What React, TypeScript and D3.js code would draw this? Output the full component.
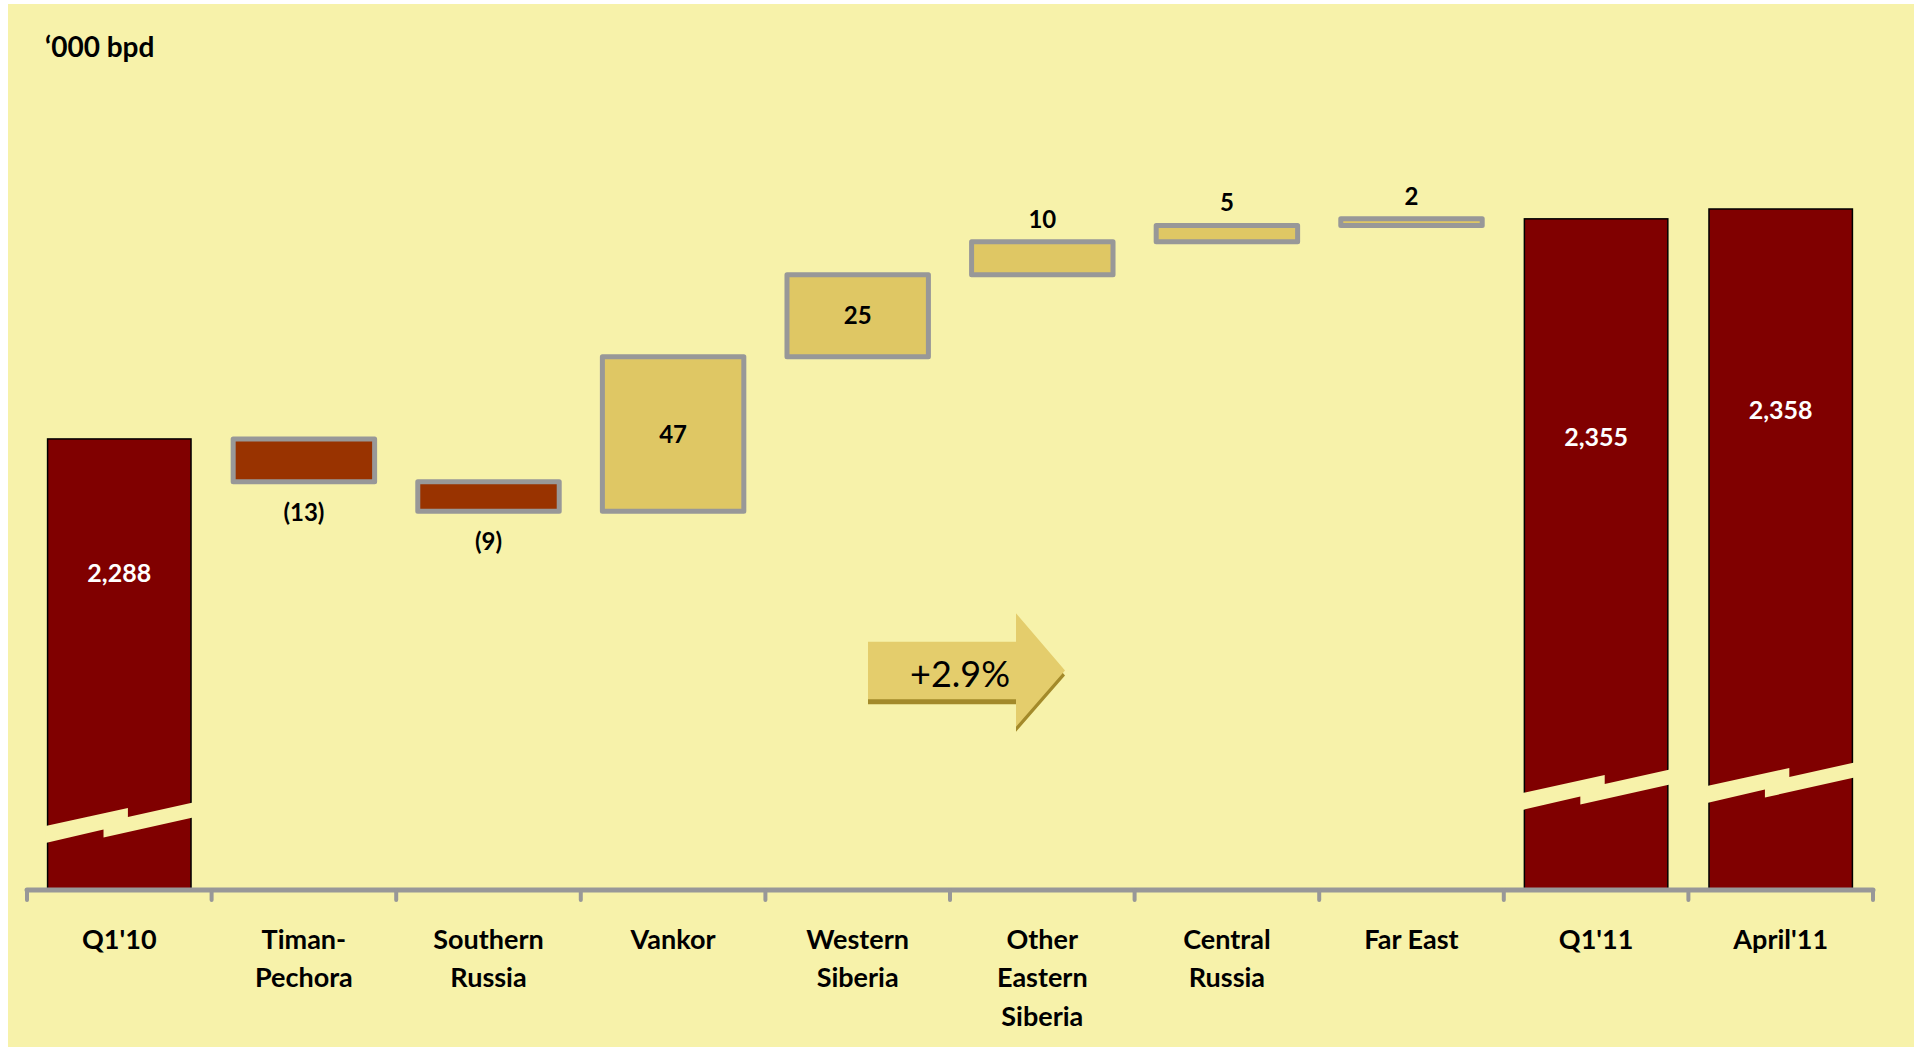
import React from "react";
import * as d3 from "d3";

// Output by region, '000 barrels per day
const categoryLines: string[][] = [
  ["Q1'10"],
  ["Timan-", "Pechora"],
  ["Southern", "Russia"],
  ["Vankor"],
  ["Western", "Siberia"],
  ["Other", "Eastern", "Siberia"],
  ["Central", "Russia"],
  ["Far East"],
  ["Q1'11"],
  ["April'11"],
];
const categories = categoryLines.map((l) => l.join(" "));

const startTotal = 2288; // Q1'10
const regionChanges = [-13, -9, 47, 25, 10, 5, 2];
const endTotals = [2355, 2358]; // Q1'11, April'11
const growthLabel = "+2.9%";
const unitLabel = "\u2018000 bpd";

// Layout
const W = 1914;
const H = 1049;
const axisY = 889;
const BG = "#F7F2AA";
const TOTAL_FILL = "#800000";
const UP_FILL = "#DFC764";
const DOWN_FILL = "#993300";
const EDGE = "#989898";
const FONT = "Lato, 'Open Sans', sans-serif";

// distance of each break zigzag above the axis, and label drop from bar top
const breakLift = [63, 96, 103];
const totalLabelDrop = [134, 218, 201];

type Bar = {
  cat: string;
  lo: number;
  hi: number;
  kind: "total" | "up" | "down";
  value: number;
};

function buildBars(): Bar[] {
  const bars: Bar[] = [];
  bars.push({ cat: categories[0], lo: 0, hi: startTotal, kind: "total", value: startTotal });
  let run = startTotal;
  regionChanges.forEach((c, i) => {
    const next = run + c;
    bars.push({
      cat: categories[i + 1],
      lo: Math.min(run, next),
      hi: Math.max(run, next),
      kind: c >= 0 ? "up" : "down",
      value: c,
    });
    run = next;
  });
  endTotals.forEach((t, i) => {
    bars.push({ cat: categories[8 + i], lo: 0, hi: t, kind: "total", value: t });
  });
  return bars;
}

export default function App() {
  const bars = buildBars();

  const x = d3
    .scaleBand<string>()
    .domain(categories)
    .range([27, 1873])
    .paddingInner(0.223)
    .paddingOuter(0.1115);

  // broken value axis: the visible part starts well above zero
  const y = d3.scaleLinear().domain([2151, 2358]).range([axisY, 209]);

  const bw = x.bandwidth();
  const fmtTotal = d3.format(",");
  const fmtChange = (v: number) => (v < 0 ? `(${Math.abs(v)})` : `${v}`);

  let totalIdx = 0;

  const arrow = {
    x0: 868,
    x1: 1016,
    tip: 1065,
    top: 641.7,
    bot: 699.3,
    headTop: 613.3,
    headBot: 726.7,
  };
  const arrowPts = (dy: number) =>
    [
      [arrow.x0, arrow.top + dy],
      [arrow.x1, arrow.top + dy],
      [arrow.x1, arrow.headTop + dy],
      [arrow.tip, (arrow.top + arrow.bot) / 2 + dy],
      [arrow.x1, arrow.headBot + dy],
      [arrow.x1, arrow.bot + dy],
      [arrow.x0, arrow.bot + dy],
    ]
      .map((p) => p.join(","))
      .join(" ");

  const step = x.step();
  const ticks = d3.range(categories.length + 1).map((i) => 27 + i * step);

  return (
    <svg
      width={W}
      height={H}
      style={{ position: "absolute", left: 0, top: 0, display: "block" }}
      fontFamily={FONT}
    >
      <rect x={0} y={0} width={W} height={H} fill="#ffffff" />
      <rect x={8} y={4} width={W - 8} height={H - 6} fill={BG} />

      <text x={45} y={57} fontSize={28} fontWeight={700} fill="#000">
        {unitLabel}
      </text>

      {bars.map((b, i) => {
        const x0 = x(b.cat)!;
        const cx = x0 + bw / 2;
        if (b.kind === "total") {
          const k = totalIdx++;
          const yTop = y(b.hi);
          const yb = axisY - breakLift[k];
          const pts = [
            [x0 - 2, yb],
            [x0 + 0.56 * bw, yb - 18],
            [x0 + 0.56 * bw, yb - 9],
            [x0 + bw + 2, yb - 23.5],
            [x0 + bw + 2, yb - 8.5],
            [x0 + 0.39 * bw, yb + 11.5],
            [x0 + 0.39 * bw, yb + 3.5],
            [x0 - 2, yb + 17],
          ]
            .map((p) => p.join(","))
            .join(" ");
          return (
            <g key={i}>
              <rect
                x={x0}
                y={yTop}
                width={bw}
                height={axisY - yTop}
                fill={TOTAL_FILL}
                stroke="#000"
                strokeWidth={1.5}
              />
              <polygon points={pts} fill={BG} />
              <text
                x={cx}
                y={yTop + totalLabelDrop[k] + 9}
                textAnchor="middle"
                fontSize={25}
                fontWeight={700}
                fill="#fff"
              >
                {fmtTotal(b.value)}
              </text>
            </g>
          );
        }
        const yTop = y(b.hi);
        const yBot = y(b.lo);
        const h = yBot - yTop;
        let label;
        if (b.kind === "down") {
          label = (
            <text x={cx} y={yBot + 39} textAnchor="middle" fontSize={24} fontWeight={700}>
              {fmtChange(b.value)}
            </text>
          );
        } else if (h > 40) {
          label = (
            <text
              x={cx}
              y={(yTop + yBot) / 2 + 8.5}
              textAnchor="middle"
              fontSize={24}
              fontWeight={700}
            >
              {fmtChange(b.value)}
            </text>
          );
        } else {
          label = (
            <text x={cx} y={yTop - 14} textAnchor="middle" fontSize={24} fontWeight={700}>
              {fmtChange(b.value)}
            </text>
          );
        }
        return (
          <g key={i}>
            <rect
              x={x0 + 1}
              y={yTop}
              width={bw - 2}
              height={h}
              fill={b.kind === "up" ? UP_FILL : DOWN_FILL}
              stroke={EDGE}
              strokeWidth={5}
              strokeLinejoin="round"
            />
            {label}
          </g>
        );
      })}

      {/* category axis */}
      <line
        x1={27}
        x2={27 + categories.length * step}
        y1={axisY + 1}
        y2={axisY + 1}
        stroke={EDGE}
        strokeWidth={5}
        strokeLinecap="round"
      />
      {ticks.map((t, i) => (
        <line
          key={i}
          x1={t}
          x2={t}
          y1={axisY + 1}
          y2={axisY + 11}
          stroke={EDGE}
          strokeWidth={4}
          strokeLinecap="round"
        />
      ))}
      {categoryLines.map((lines, i) => (
        <text
          key={i}
          x={x(categories[i])! + bw / 2}
          y={948.5}
          textAnchor="middle"
          fontSize={27}
          fontWeight={700}
          fill="#000"
        >
          {lines.map((ln, j) => (
            <tspan key={j} x={x(categories[i])! + bw / 2} dy={j === 0 ? 0 : 38.5}>
              {ln}
            </tspan>
          ))}
        </text>
      ))}

      {/* growth arrow */}
      <polygon points={arrowPts(5)} fill="#A38A2A" />
      <polygon points={arrowPts(0)} fill="#E4CD6C" />
      <text x={960} y={686.5} textAnchor="middle" fontSize={36} fill="#000">
        {growthLabel}
      </text>
    </svg>
  );
}
